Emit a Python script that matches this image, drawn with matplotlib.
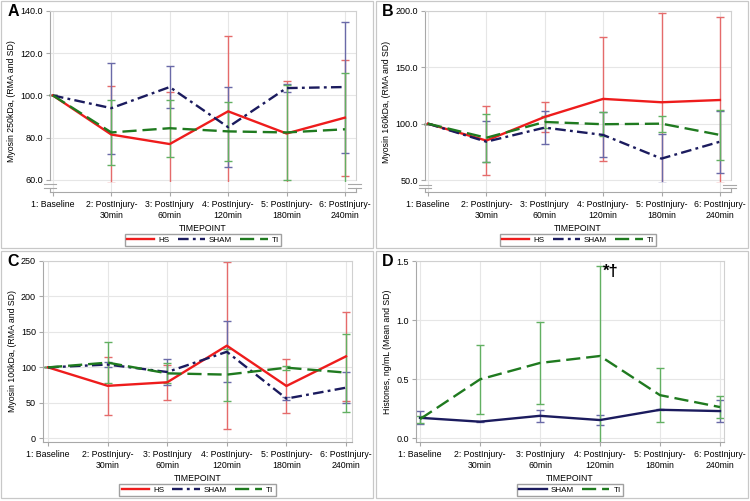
import numpy as np
import matplotlib
matplotlib.use("Agg")
import matplotlib.pyplot as plt
from matplotlib.patches import Rectangle

plt.rcParams['font.family'] = ['Liberation Sans', 'DejaVu Sans']

# timepoints
tick_labels = ["1: Baseline", "2: PostInjury-\n30min", "3: PostInjury\n60min",
               "4: PostInjury-\n120min", "5: PostInjury-\n180min", "6: PostInjury-\n240min"]

# panel A - Myosin 250kDa (mean, SD)
a_hs = [100, 81.5, 77, 92.5, 82, 89.5]
a_hs_sd = [0, 23, 24.5, 35.5, 25, 27.5]
a_sham = [100, 94, 104, 85, 103.5, 104]
a_sham_sd = [0, 21.5, 10, 19, 2, 31]
a_ti = [100, 82.5, 84.5, 83, 82.5, 84]
a_ti_sd = [0, 15.5, 13.5, 14, 22.5, 26.5]

# panel B - Myosin 160kDa
b_hs = [100, 85, 106, 122, 119, 121]
b_hs_sd = [0, 30.5, 13, 55, 79, 73.5]
b_sham = [100, 84, 96.5, 90, 69, 84]
b_sham_sd = [0, 18, 14.3, 20, 22, 27.5]
b_ti = [100, 87.5, 101.5, 99.5, 100, 90]
b_ti_sd = [0, 21.5, 5.5, 10.5, 7, 22]

# panel C - Myosin 100kDa
c_hs = [100, 74, 79, 130.6, 73.8, 115.6]
c_hs_sd = [0, 41, 25, 118, 38, 62.5]
c_sham = [100, 104, 93.5, 122, 56, 71.4]
c_sham_sd = [0, 4, 18, 43, 2, 22]
c_ti = [100, 106.7, 91.6, 89.8, 99.6, 92.6]
c_ti_sd = [0, 29, 14, 36.7, 3, 55]

# panel D - Histones ng/mL
d_sham = [0.174, 0.141, 0.191, 0.155, 0.242, 0.231]
d_sham_sd = [0.055, 0.004, 0.05, 0.046, 0.005, 0.09]
d_ti = [0.163, 0.5, 0.639, 0.698, 0.366, 0.265]
d_ti_sd = [0.03, 0.29, 0.346, 0.76, 0.23, 0.093]

RED, RED_E = "#ee1c1c", "#e56b6b"
NAVY, NAVY_E = "#1b1b5e", "#6a6aa8"
GREEN, GREEN_E = "#1f7a1f", "#62b062"
GRID = "#e6e6e6"
FRAME = "#a8a8a8"

W, H = 750, 501
fig = plt.figure(figsize=(7.5, 5.01), dpi=100)


def px_axes(l, t, w, h):
    return fig.add_axes([l / W, 1 - (t + h) / H, w / W, h / H])


# panel borders
for (l, t) in [(1, 1), (376, 1), (1, 251), (376, 251)]:
    fig.patches.append(Rectangle((l / W, 1 - (t + 247) / H), 372 / W, 247 / H,
                                 transform=fig.transFigure, fill=False,
                                 edgecolor="#c8c8c8", lw=0.9))

# panel letters
for (l, t, letter) in [(13, 12, "A"), (388, 12, "B"), (13, 262, "C"), (388, 262, "D")]:
    fig.text(l / W, 1 - t / H, letter, fontsize=11.5, fontweight='bold',
             ha='center', va='center')

x = np.arange(6)


def style(ax, xlim, ylim, ticks, fmt, ylabel):
    ax.set_xlim(*xlim)
    ax.set_ylim(*ylim)
    ax.set_yticks(ticks)
    ax.set_yticklabels([fmt.format(t) for t in ticks])
    ax.set_xticks(x)
    ax.set_xticklabels(tick_labels, fontsize=6.3, linespacing=1.25)
    ax.tick_params(axis='y', labelsize=6.5, length=3, color=FRAME, pad=2)
    ax.tick_params(axis='x', length=3, color=FRAME, pad=3)
    ax.grid(True, color=GRID, lw=0.8)
    ax.set_axisbelow(True)
    for s in ax.spines.values():
        s.set_color(FRAME)
        s.set_linewidth(0.8)
    ax.spines['top'].set_color("#d0d0d0")
    ax.spines['right'].set_color("#d0d0d0")
    ax.set_ylabel(ylabel, fontsize=6.3, labelpad=3)
    ax.set_xlabel("TIMEPOINT", fontsize=6.3, labelpad=3)


def add_break(ax, brk):
    lo, hi = ax.get_ylim()
    ax.spines['left'].set_bounds(brk, hi)
    ax.spines['right'].set_bounds(brk, hi)
    f = (brk - lo) / (hi - lo)
    for yy in (f - 0.025, f - 0.045):
        ax.plot([-0.02, 0.02], [yy, yy], transform=ax.transAxes, color=FRAME,
                lw=0.8, clip_on=False)
        ax.plot([0.975, 1.015], [yy, yy], transform=ax.transAxes, color=FRAME,
                lw=0.8, clip_on=False)
    ax.plot([0, 0], [0, f - 0.045], transform=ax.transAxes, color=FRAME, lw=0.8, clip_on=False)
    ax.plot([1, 1], [0, f - 0.045], transform=ax.transAxes, color=FRAME, lw=0.8, clip_on=False)


def series(ax, mean, sd, col, ecol, dashes, label, clip=None):
    eb = ax.errorbar(x, mean, yerr=sd, fmt='none', ecolor=ecol, elinewidth=1.0,
                     capsize=2.6, capthick=1.0, zorder=2)
    if clip is not None:
        rect = Rectangle((-1, clip), 10, 1000, transform=ax.transData)
        for art in list(eb.lines[1]) + list(eb.lines[2]):
            art.set_clip_path(rect)
    line, = ax.plot(x, mean, color=col, lw=1.7, label=label, zorder=3)
    if dashes:
        line.set_dashes(dashes)
    return line


def legend(ax):
    ax.legend(loc='center', bbox_to_anchor=(0.5, -0.265), ncol=3, fontsize=5.8,
              frameon=True, fancybox=False, edgecolor="#a0a0a0", handlelength=3.4,
              handletextpad=0.5, columnspacing=1.0, borderpad=0.3, framealpha=1)


DASHDOT = (4.5, 1.8, 1.2, 1.8)
LONGDASH = (6, 2.5)

# A
axA = px_axes(50, 11, 306, 181)
series(axA, a_hs, a_hs_sd, RED, RED_E, None, "HS", clip=59)
series(axA, a_sham, a_sham_sd, NAVY, NAVY_E, DASHDOT, "SHAM", clip=59)
series(axA, a_ti, a_ti_sd, GREEN, GREEN_E, LONGDASH, "TI", clip=59)
style(axA, (-0.05, 5.19), (54.3, 140), [60, 80, 100, 120, 140], "{:.1f}",
      "Myosin 250kDa, (RMA and SD)")
add_break(axA, 60)
legend(axA)

# B
axB = px_axes(425, 11, 306, 181)
series(axB, b_hs, b_hs_sd, RED, RED_E, None, "HS", clip=48.5)
series(axB, b_sham, b_sham_sd, NAVY, NAVY_E, DASHDOT, "SHAM", clip=48.5)
series(axB, b_ti, b_ti_sd, GREEN, GREEN_E, LONGDASH, "TI", clip=48.5)
style(axB, (-0.05, 5.19), (39.35, 200), [50, 100, 150, 200], "{:.1f}",
      "Myosin 160kDa, (RMA and SD)")
add_break(axB, 50)
legend(axB)

# C
axC = px_axes(43, 261, 309, 181)
series(axC, c_hs, c_hs_sd, RED, RED_E, None, "HS")
series(axC, c_sham, c_sham_sd, NAVY, NAVY_E, DASHDOT, "SHAM")
series(axC, c_ti, c_ti_sd, GREEN, GREEN_E, LONGDASH, "TI")
style(axC, (-0.085, 5.1), (-5.2, 250), [0, 50, 100, 150, 200, 250], "{:.0f}",
      "Myosin 100kDa, (RMA and SD)")
legend(axC)

# D
axD = px_axes(416, 261, 308, 181)
series(axD, d_sham, d_sham_sd, NAVY, NAVY_E, None, "SHAM")
series(axD, d_ti, d_ti_sd, GREEN, GREEN_E, LONGDASH, "TI")
style(axD, (-0.067, 5.067), (-0.031, 1.503), [0.0, 0.5, 1.0, 1.5], "{:.1f}",
      "Histones, ng/mL (Mean and SD)")
axD.text(3.05, 1.41, "*\u2020", fontsize=12, fontweight='bold', ha='left', va='center')
legend(axD)

fig.savefig("out.png", dpi=100)
